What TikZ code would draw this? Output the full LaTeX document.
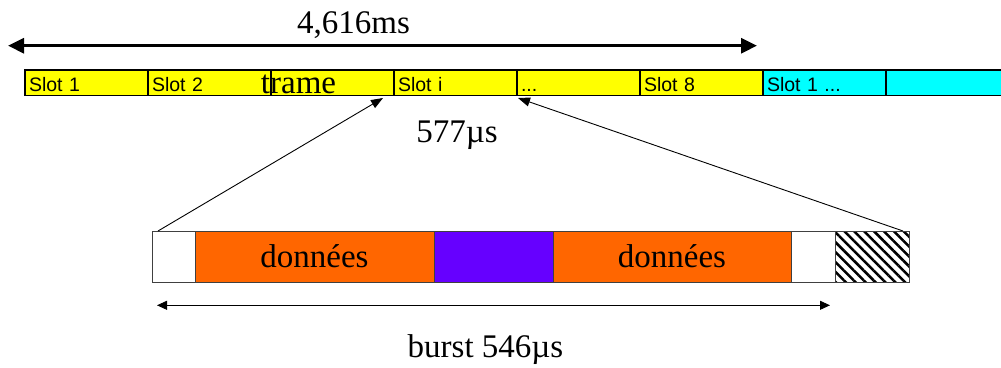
\documentclass[tikz,border=0pt]{standalone}
\usepackage{fontspec}
\setmainfont{Liberation Serif}
\newfontfamily\slotfont{Liberation Sans}
\usetikzlibrary{arrows.meta,positioning,patterns.meta}
\definecolor{slotyellow}{HTML}{FFFF00}
\definecolor{slotcyan}{HTML}{00FFFF}
\definecolor{dataorange}{HTML}{FF6600}
\definecolor{midpurple}{HTML}{6600FF}
\tikzset{
  slot/.style={draw, line width=1.5pt, fill=slotyellow, minimum width=123pt, minimum height=25.5pt,
    inner xsep=4pt, inner ysep=0pt, outer sep=0pt, text width=115pt, align=left,
    text height=18pt, text depth=0pt, anchor=north west, font=\slotfont\fontsize{19.5}{22}\selectfont},
  part/.style={draw=black!75, line width=0.8pt, minimum height=51pt, inner sep=0pt, outer sep=0pt},
  big/.style={font=\fontsize{33}{38}\selectfont},
  thin arrow/.style={line width=0.9pt, -{Triangle[length=12pt,width=9pt]}}
}
\begin{document}
\begin{tikzpicture}[x=1pt,y=-1pt]
\useasboundingbox (0,0) rectangle (1001,367);
\node[slot] (s1) at (25,70) {Slot 1};
\node[slot] (s2) at (148,70) {Slot 2};
\node[slot] (s3) at (271,70) {};
\node[slot] (si) at (394,70) {Slot i};
\node[slot] (sx) at (517,70) {...};
\node[slot] (s8) at (640,70) {Slot 8};
\node[slot, fill=slotcyan] (n1) at (763,70) {Slot 1 ...};
\node[slot, fill=slotcyan] (n2) at (886,70) {};
\node[big, anchor=base] (trame) at (298.5,93.3) {trame};

\coordinate (tl) at (8,45.7);
\coordinate (tr) at (757,45.7);
\draw [line width=3pt, {Triangle[length=16pt,width=15pt]}-{Triangle[length=16pt,width=15pt]}] (tl) -- (tr);
\node[big, anchor=base] (dtrame) at (353.5,33) {4,616ms};
\node[big, anchor=base] (dslot) at (457,142.3) {577µs};

\node[part, fill=white, minimum width=43pt, anchor=north west] (hdl) at (152,231) {};
\node[part, fill=dataorange, minimum width=239pt, right=0pt of hdl, big] (dl) {données};
\node[part, fill=midpurple, minimum width=119pt, right=0pt of dl] (mid) {};
\node[part, fill=dataorange, minimum width=238pt, right=0pt of mid, big] (dr) {données};
\node[part, fill=white, minimum width=44pt, right=0pt of dr] (hdr) {};
\node[part, pattern={Lines[angle=-45,distance=7pt,line width=2.5pt]}, minimum width=74pt, right=0pt of hdr] (tail) {};

\coordinate (pin) at (383,98);
\coordinate (pout) at (518,98);
\draw [thin arrow] ([xshift=6pt]hdl.north west) -- (pin);
\draw [thin arrow] ([xshift=-6pt]tail.north east) -- (pout);

\coordinate (bl) at (157,305.3);
\coordinate (br) at (830,305.3);
\draw [line width=0.9pt, {Triangle[length=10pt,width=9pt]}-{Triangle[length=10pt,width=9pt]}] (bl) -- (br);
\node[big, anchor=base] (dburst) at (485.5,357) {burst 546µs};
\end{tikzpicture}
\end{document}
